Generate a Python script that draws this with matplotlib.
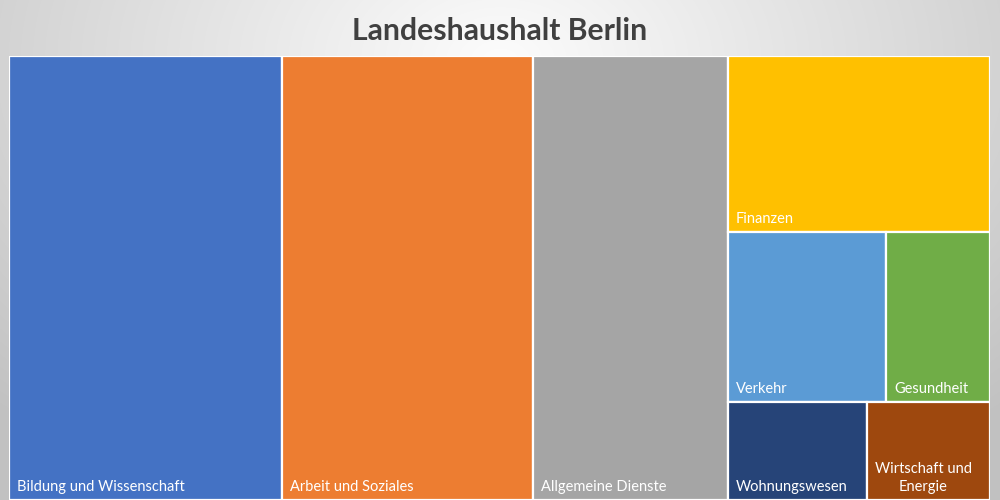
import numpy as np
import matplotlib.pyplot as plt
from matplotlib.patches import Rectangle

# Landeshaushalt Berlin, Anteile (Mrd. EUR, geschätzt aus den Flächen)
categories = ["Bildung und Wissenschaft", "Arbeit und Soziales", "Allgemeine Dienste",
              "Finanzen", "Verkehr", "Gesundheit", "Wohnungswesen",
              "Wirtschaft und\nEnergie"]
values = [8.35, 7.65, 5.96, 3.18, 1.85, 1.21, 0.94, 0.835]
colors = ["#4472C4", "#ED7D31", "#A5A5A5", "#FFC000", "#5B9BD5", "#70AD47",
          "#264478", "#9E480E"]

# Aufteilung wie im Original: drei Spalten, dann eine Spalte mit Zeilen
layout = [[[0]], [[1]], [[2]], [[3], [4, 5], [6, 7]]]

W, H = 981.0, 444.0


def compute_rects(layout, values, W, H):
    rects = {}
    total = sum(values)
    x = 0.0
    for col in layout:
        col_sum = sum(values[i] for row in col for i in row)
        cw = W * col_sum / total
        y = H
        for row in col:
            row_sum = sum(values[i] for i in row)
            rh = H * row_sum / col_sum
            xx = x
            for i in row:
                w = cw * values[i] / row_sum
                rects[i] = (xx, y - rh, w, rh)
                xx += w
            y -= rh
        x += cw
    return rects


def main():
    fig = plt.figure(figsize=(10, 5), dpi=100)

    # grauer Hintergrund mit hellem Zentrum
    bg = fig.add_axes([0, 0, 1, 1])
    yy, xx = np.mgrid[0:500, 0:1000]
    d = np.sqrt(((xx - 500) / 620.0) ** 2 + ((yy - 60) / 420.0) ** 2)
    shade = np.clip(0.99 - 0.2 * d, 0.76, 1.0)
    bg.imshow(np.dstack([shade] * 3), extent=[0, 1000, 500, 0], aspect="auto")
    bg.set_xlim(0, 1000)
    bg.set_ylim(500, 0)
    bg.axis("off")

    fig.text(0.5, 0.938, "Landeshaushalt Berlin", ha="center", va="center",
             fontsize=21.7, fontweight="bold", color="#404040", family="Lato")

    ax = fig.add_axes([9 / 1000, 0, W / 1000, H / 500])
    ax.set_xlim(0, W)
    ax.set_ylim(0, H)
    ax.axis("off")

    rects = compute_rects(layout, values, W, H)
    for i, name in enumerate(categories):
        x, y, w, h = rects[i]
        ax.add_patch(Rectangle((x, y), w, h, facecolor=colors[i],
                               edgecolor="white", linewidth=1.6))
        ax.text(x + 8, y + 6, name, ha="left", va="bottom", color="white",
                fontsize=10.5, family="Lato", multialignment="center",
                linespacing=1.35)

    fig.savefig("out.png", dpi=100)


if __name__ == "__main__":
    main()
